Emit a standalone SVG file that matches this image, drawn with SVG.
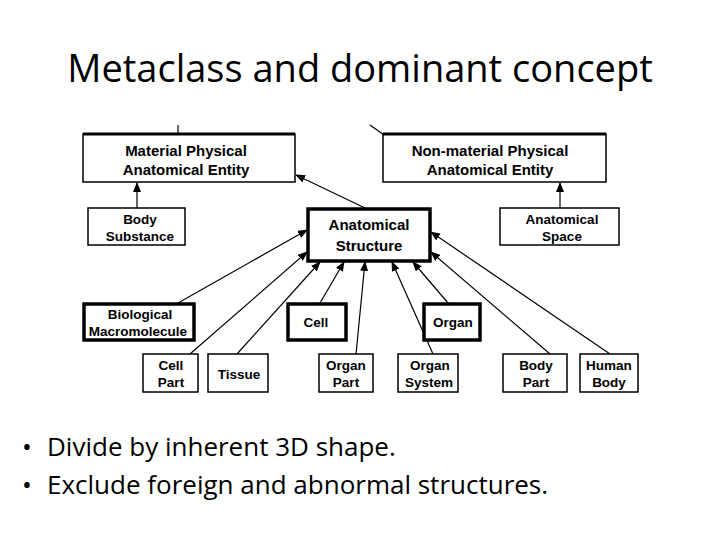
<svg xmlns="http://www.w3.org/2000/svg" width="720" height="540" viewBox="0 0 720 540">
<defs>
<style>
.b{fill:#fff;stroke:#000;stroke-width:1.5}
.k{fill:#fff;stroke:#000;stroke-width:3.5}
.t{font-family:"Liberation Sans",Arial,sans-serif;font-weight:bold;font-size:15px;text-anchor:middle;fill:#000}
.s{font-family:"Liberation Sans",Arial,sans-serif;font-weight:bold;font-size:13.5px;text-anchor:middle;fill:#000}
.c line{stroke:#000;stroke-width:1.2;marker-end:url(#a)}
.h{font-family:"Open Sans","Liberation Sans",sans-serif;fill:#000}
</style>
<marker id="a" markerWidth="10" markerHeight="8" refX="9" refY="4" orient="auto" markerUnits="userSpaceOnUse"><path d="M0,0L10,4L0,8z" fill="#000"/></marker>
</defs>
<rect width="720" height="540" fill="#fff"/>
<text class="h" x="360" y="82" font-size="38" text-anchor="middle">Metaclass and dominant concept</text>
<g class="c">
<line x1="178" y1="125" x2="178" y2="134" style="marker-end:none"/>
<line x1="370" y1="125" x2="384" y2="135" style="marker-end:none"/>
<line x1="137" y1="208" x2="137" y2="183"/>
<line x1="560" y1="208" x2="560" y2="183"/>
<line x1="365" y1="208" x2="296" y2="175"/>
<line x1="178" y1="303" x2="307" y2="230"/>
<line x1="190" y1="354" x2="307" y2="252"/>
<line x1="237" y1="354" x2="320" y2="262"/>
<line x1="320" y1="303" x2="344" y2="262"/>
<line x1="356" y1="354" x2="365" y2="262"/>
<line x1="433" y1="354" x2="392" y2="262"/>
<line x1="448" y1="303" x2="413" y2="262"/>
<line x1="550" y1="354" x2="431" y2="252"/>
<line x1="610" y1="354" x2="431" y2="232"/>
</g>
<g id="material"><rect class="b" x="83" y="134" width="212" height="48"/><line x1="83" y1="134" x2="295" y2="134" stroke="#000" stroke-width="3"/><text class="t" x="186" y="156">Material Physical</text><text class="t" x="186" y="175">Anatomical Entity</text></g>
<g id="nonmaterial"><rect class="b" x="383" y="134" width="223" height="48"/><line x1="383" y1="134" x2="606" y2="134" stroke="#000" stroke-width="3"/><text class="t" x="490" y="156">Non-material Physical</text><text class="t" x="490" y="175">Anatomical Entity</text></g>
<g id="bodysubstance"><rect class="b" x="88" y="208" width="97" height="37"/><text class="s" x="140" y="224">Body</text><text class="s" x="140" y="241">Substance</text></g>
<g id="anatomicalspace"><rect class="b" x="500" y="208" width="119" height="37"/><text class="s" x="562" y="224">Anatomical</text><text class="s" x="562" y="241">Space</text></g>
<g id="anatomicalstructure"><rect class="k" x="308" y="209" width="122" height="52"/><text class="t" x="369" y="230">Anatomical</text><text class="t" x="369" y="251">Structure</text></g>
<g id="biomacro"><rect class="k" x="84" y="304" width="110" height="36"/><text class="s" x="140" y="319">Biological</text><text class="s" x="138" y="336">Macromolecule</text></g>
<g id="cell"><rect class="k" x="288" y="304" width="58" height="36"/><text class="s" x="316" y="327">Cell</text></g>
<g id="organ"><rect class="k" x="424" y="304" width="56" height="36"/><text class="s" x="453" y="327">Organ</text></g>
<g id="cellpart"><rect class="b" x="143" y="354" width="55" height="38"/><text class="s" x="171" y="370">Cell</text><text class="s" x="171" y="387">Part</text></g>
<g id="tissue"><rect class="b" x="208" y="354" width="60" height="38"/><text class="s" x="239" y="379">Tissue</text></g>
<g id="organpart"><rect class="b" x="319" y="354" width="54" height="38"/><text class="s" x="346" y="370">Organ</text><text class="s" x="346" y="387">Part</text></g>
<g id="organsystem"><rect class="b" x="398" y="354" width="60" height="38"/><text class="s" x="430" y="370">Organ</text><text class="s" x="429" y="387">System</text></g>
<g id="bodypart"><rect class="b" x="503" y="354" width="64" height="38"/><text class="s" x="536" y="370">Body</text><text class="s" x="536" y="387">Part</text></g>
<g id="humanbody"><rect class="b" x="580" y="354" width="58" height="38"/><text class="s" x="609" y="370">Human</text><text class="s" x="609" y="387">Body</text></g>
<text class="h" x="22" y="456" font-size="26">•</text><text class="h" x="47" y="456" font-size="26">Divide by inherent 3D shape.</text>
<text class="h" x="22" y="494" font-size="26">•</text><text class="h" x="47" y="494" font-size="26">Exclude foreign and abnormal structures.</text>
</svg>
